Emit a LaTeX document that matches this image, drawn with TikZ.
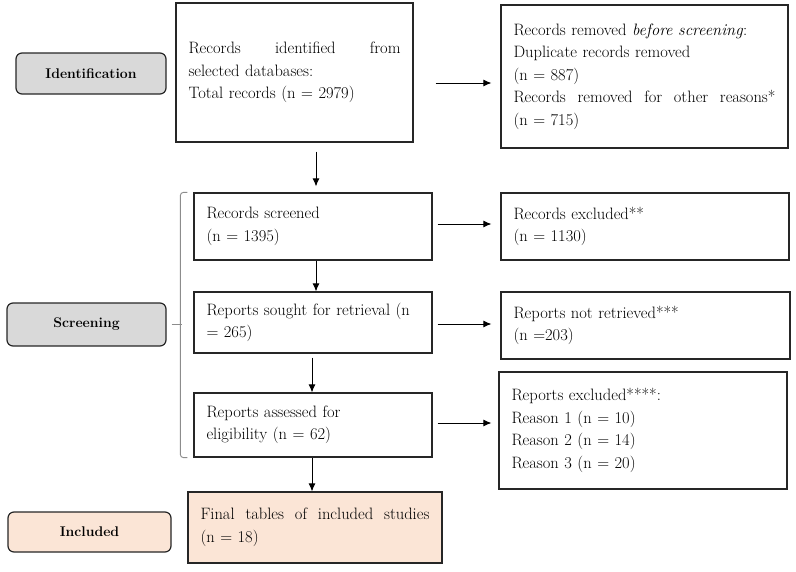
\documentclass[tikz,border=0pt]{standalone}
\usetikzlibrary{arrows.meta,calc}
\definecolor{labgray}{HTML}{D9D9D9}
\definecolor{peach}{HTML}{FBE5D6}
\definecolor{bracegray}{HTML}{8C8C8C}
\begin{document}
\begin{tikzpicture}[x=1pt,y=1pt,
  box/.style={draw=black!85, line width=1.2pt, inner xsep=12.5pt, inner ysep=4pt,
    align=left, font=\fontsize{16.5}{22.5}\selectfont},
  lab/.style={draw=black!85, line width=1.2pt, rounded corners=6pt, fill=labgray,
    font=\fontsize{14}{16}\selectfont\bfseries, align=center},
  arr/.style={-{Latex[length=8pt,width=7pt]}, line width=0.9pt, black}
]
\useasboundingbox (0,0) rectangle (796,-571);

% stage labels
\node[lab, minimum width=150pt, minimum height=41pt] (ident) at (91,-73.5) {Identification};
\node[lab, minimum width=159pt, minimum height=43pt] (screen) at (86.5,-324.5) {Screening};
\node[lab, fill=peach, minimum width=163pt, minimum height=40pt] (incl) at (89.5,-532) {Included};

% main boxes
\node[box, text width=212pt, minimum height=139pt] (ident1) at (294.5,-72.5)
  {Records\hfill identified\hfill from\\ selected databases:\\ Total records (n = 2979)};
\node[box, text width=262pt, minimum height=143pt] (removed) at (644.5,-76.5)
  {Records removed \emph{before screening}:\\ Duplicate records removed\\ (n = 887)\\
   Records\hfill removed\hfill for\hfill other\hfill reasons*\\ (n = 715)};

\node[box, text width=213pt, minimum height=67pt] (screened) at (313,-226.5)
  {Records screened\\ (n = 1395)};
\node[box, text width=263pt, minimum height=67pt] (excluded) at (645,-226.5)
  {Records excluded**\\ (n = 1130)};

\node[box, text width=213pt, minimum height=61pt] (sought) at (313,-322.5)
  {Reports sought for retrieval (n\\ = 265)};
\node[box, text width=264pt, minimum height=67pt] (notretr) at (645.5,-325.5)
  {Reports not retrieved***\\ (n =203)};

\node[box, text width=213pt, minimum height=64pt] (assessed) at (313,-425)
  {Reports assessed for\\ eligibility (n = 62)};
\node[box, text width=263pt, minimum height=117pt] (repexcl) at (643,-430.5)
  {Reports excluded****:\\ Reason 1 (n = 10)\\ Reason 2 (n = 14)\\ Reason 3 (n = 20)};

\node[box, fill=peach, text width=229pt, minimum height=71pt] (final) at (315,-527.5)
  {Final\hfill tables\hfill of\hfill included\hfill studies\\ (n = 18)};

% horizontal arrows
\draw[arr, shorten <=22pt, shorten >=9pt] ([yshift=-10.5pt]ident1.east) -- ([yshift=-10.5pt]ident1.east -| removed.west);
\draw[arr, shorten <=5pt, shorten >=9pt] ([yshift=2.5pt]screened.east) -- ([yshift=2.5pt]screened.east -| excluded.west);
\draw[arr, shorten <=5pt, shorten >=9pt] ([yshift=-1.5pt]sought.east) -- ([yshift=-1.5pt]sought.east -| notretr.west);
\draw[arr, shorten <=5pt, shorten >=7pt] ([yshift=2pt]assessed.east) -- ([yshift=2pt]assessed.east -| repexcl.west);

% vertical arrows
\draw[arr, shorten <=9pt, shorten >=6pt] ([xshift=3pt]ident1.south -| screened.north) -- ([xshift=3pt]screened.north);
\draw[arr] ([xshift=3pt]screened.south) -- ([xshift=3pt]sought.north);
\draw[arr, shorten <=4pt] ([xshift=-1pt]sought.south) -- ([xshift=-1pt]assessed.north);
\draw[arr] ([xshift=-1pt]assessed.south) -- ([xshift=-1pt]assessed.south |- final.north);

% brace
\draw[bracegray, line width=0.9pt, rounded corners=3pt]
  ([xshift=-6pt]screened.north west) -- ([xshift=-13pt]screened.north west)
  -- ([xshift=-13pt]assessed.south west) -- ([xshift=-6pt]assessed.south west);
\draw[bracegray, line width=0.9pt] ([xshift=5pt]screen.east) -- ([xshift=15pt]screen.east);
\end{tikzpicture}
\end{document}
